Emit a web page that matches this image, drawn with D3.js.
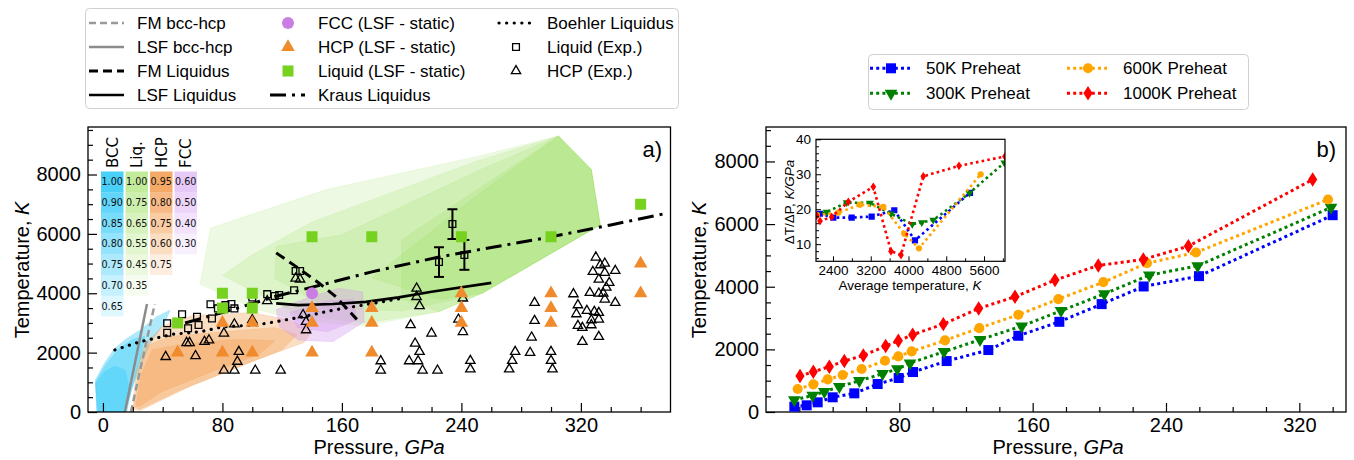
<!DOCTYPE html>
<html><head><meta charset="utf-8">
<script src="https://cdn.jsdelivr.net/npm/d3@7"></script>
<style>body{margin:0;background:#fff}</style>
</head><body><svg id="c" width="1354" height="460"></svg>
<script>
// ================= DATA : panel a) =================
const liqStaticP = [50, 80, 80, 100, 100, 140, 180, 240, 300, 360];
const liqStaticT = [3000, 3500, 4000, 3500, 4000, 5900, 5900, 5900, 5900, 7000];
const hcpStaticP = [50, 80, 80, 100, 100, 140, 140, 140, 180, 180, 180, 240, 240, 240, 300, 300, 300, 360, 360];
const hcpStaticT = [2000, 2000, 3000, 2000, 3000, 2000, 3000, 3500, 2000, 3000, 3500, 3000, 3500, 4000, 3000, 3500, 4000, 4000, 5000];
const fccStaticP = [140];
const fccStaticT = [4000];
const liqExpP = [43, 43, 53, 57, 63, 64, 72, 73, 77, 82, 86, 88, 100, 100, 110, 115, 118, 128, 129, 132, 225, 234, 242];
const liqExpT = [2670, 2990, 3290, 2820, 3210, 2930, 3630, 3150, 3490, 3600, 3640, 3490, 3860, 3560, 3970, 3910, 3940, 4100, 4750, 4750, 5050, 6330, 5290];
const liqExpErr = [0, 0, 0, 0, 0, 0, 0, 0, 0, 0, 0, 0, 0, 0, 0, 0, 0, 0, 0, 0, 500, 500, 500];
const hcpExpP = [42, 56, 58, 62, 68, 71, 81, 88, 91, 90, 81, 88, 102, 119, 100, 110, 134, 136, 136, 129, 132,
  210, 210, 212, 206, 220, 209, 212, 205, 211, 186, 186, 214, 224, 241, 240, 238, 241, 246, 246,
  289, 289, 287, 286, 276, 274, 272, 300, 300, 301,
  330, 333, 336, 328, 336, 343, 332, 339, 326, 332, 335, 337, 315, 336, 343, 318, 324, 329, 332, 317, 327, 332, 318, 321, 327, 332, 321];
const hcpExpT = [1860, 2330, 2330, 1890, 2370, 2420, 2650, 2960, 2030, 1700, 1400, 1400, 1400, 1400, 3100, 3740, 3270, 3040, 2760, 4500, 4470,
  4165, 3880, 3570, 2930, 2650, 2310, 2030, 1717, 1717, 1717, 1400, 1400, 1400, 3830, 3490, 3120, 2700, 1727, 1440,
  3680, 3074, 2515, 2000, 2030, 1727, 1440, 2030, 1727, 1440,
  5210, 4950, 5006, 4724, 4690, 4758, 4468, 4354, 4017, 3996, 3996, 4198, 3973, 3795, 3680, 3603, 3411, 3377, 3343, 3300, 3098, 3121, 2906, 2838, 2929, 2535, 2367];
const boehlerP = [8, 25, 47, 65, 80, 102, 110, 134, 154, 180, 200];
const boehlerT = [2090, 2370, 2620, 2700, 2870, 2930, 2990, 3210, 3430, 3650, 3830];
const fmLiqP = [116, 131, 145, 156, 162, 170];
const fmLiqT = [5360, 4840, 4330, 3880, 3550, 3120];
const lsfLiqP = [116, 131, 154, 176, 198, 220, 260];
const lsfLiqT = [3660, 3600, 3640, 3710, 3860, 4050, 4350];
const krausP = [55, 80, 102, 116, 150, 180, 225, 260, 300, 340, 378];
const krausT = [3000, 3350, 3680, 3900, 4330, 4720, 5220, 5540, 5900, 6300, 6700];
const fmBccP = [18.7, 34.7];
const fmBccT = [0, 3640];
const lsfBccP = [14.7, 29.5];
const lsfBccT = [0, 3640];
// phase regions (pressure, temperature) vertices
const bccRegions = [
  [[-3,0],[-5,1080],[1,1640],[8,2150],[16,2480],[25,2760],[36,3210],[45,3430],[41,2990],[31,2260],[25,1530],[19,740],[16,0]],
  [[-4,0],[-5,1000],[2,1600],[10,2100],[20,2450],[28,2550],[25,1800],[19,700],[15,0]],
  [[-4,0],[-5,950],[1,1350],[8,1550],[15,1400],[18,700],[14,0]]
];
const hcpRegions = [
  [[20,100],[22,1300],[28,2300],[40,2900],[60,3250],[100,3350],[125,3100],[140,2750],[135,2350],[100,1700],[60,900],[25,50]],
  [[21,150],[24,1400],[30,2250],[45,2550],[80,2700],[115,2850],[130,2600],[120,2100],[90,1500],[50,700],[25,100]],
  [[22,200],[26,1300],[33,2100],[55,2300],[90,2450],[115,2400],[105,1950],[75,1400],[40,700],[25,200]]
];
const fccRegions = [
  [[116,3450],[140,3900],[158,4170],[174,4050],[175,3040],[154,2370],[131,2420],[118,2870]],
  [[125,3350],[150,3750],[168,3800],[170,3100],[150,2700],[130,2850]]
];
const liqRegions = [
  [[65,4300],[72,6200],[150,7500],[250,8600],[305,9300],[327,8170],[333,6300],[254,4000],[225,3380],[175,2900],[130,3100],[100,3500]],
  [[80,4600],[100,5300],[140,6400],[250,8450],[305,9300],[327,8170],[333,6300],[254,4000],[225,3380],[175,3000],[130,3300]],
  [[115,4500],[116,5580],[160,5970],[250,8100],[305,9300],[327,8170],[333,6300],[254,4000],[200,3400],[150,3500]],
  [[180,4510],[251,7315],[305,9300],[327,8170],[333,6300],[254,4000],[225,3800]],
  [[200,5800],[305,9300],[327,8170],[333,6300],[254,4000],[225,3380],[200,3800]]
];
const tableHeads = ["BCC", "Liq.", "HCP", "FCC"];
const bccVals = ["1.00", "0.90", "0.85", "0.80", "0.75", "0.70", "0.65"];
const liqVals = ["1.00", "0.75", "0.65", "0.55", "0.45", "0.35"];
const hcpVals = ["0.95", "0.80", "0.75", "0.60", "0.75"];
const fccVals = ["0.60", "0.50", "0.40", "0.30"];
const xTicksA = [0, 80, 160, 240, 320];
const yTicksA = [0, 2000, 4000, 6000, 8000];

// ================= DATA : panel b) =================
const p50 = [17, 24.4, 31, 40, 53, 67, 79.6, 88.2, 108.4, 133.4, 151.4, 176, 201.4, 226.6, 259.8, 340];
const t50 = [170, 213, 309, 469, 596, 893, 1085, 1276, 1627, 1978, 2434, 2880, 3445, 4008, 4338, 6284];
const p300 = [17, 28, 35, 44, 56, 70, 78.8, 86.4, 106.8, 128.4, 153.4, 177, 203, 230, 259, 339];
const t300 = [383, 532, 648, 808, 998, 1222, 1372, 1563, 1925, 2307, 2743, 3232, 3774, 4370, 4667, 6529];
const p600 = [19, 28.4, 37, 46, 57.4, 71.4, 79.4, 87.4, 107.4, 128, 151.4, 175.4, 202.4, 228.6, 258, 337.2];
const t600 = [734, 883, 1042, 1180, 1372, 1637, 1775, 1935, 2286, 2679, 3104, 3604, 4147, 4753, 5093, 6784];
const p1000 = [20.4, 28.4, 38, 47, 58.4, 71.8, 79.4, 88, 106.4, 127.6, 149.4, 173.4, 199.4, 226.4, 253.4, 328];
const t1000 = [1148, 1286, 1446, 1627, 1808, 2105, 2275, 2467, 2807, 3307, 3679, 4211, 4679, 4871, 5295, 7422];
const seriesNames = ["50K Preheat", "300K Preheat", "600K Preheat", "1000K Preheat"];
// inset: average temperature vs dT/dP
const i50T = [2122, 2407, 2796, 3220, 3699, 4137, 5303];
const i50V = [18.7, 17.6, 17.6, 17.9, 19.7, 11.1, 24.7];
const i300T = [2054, 2266, 2690, 3184, 3629, 4080, 4282, 4525, 5290, 6030];
const i300V = [18.5, 19.2, 21.9, 21.8, 18.7, 15.7, 16.2, 16.9, 24.6, 33.3];
const i600T = [2060, 2512, 2972, 3466, 3911, 4222, 5529];
const i600V = [18.3, 19.0, 21.3, 20.7, 13.0, 8.8, 30.0];
const i1000T = [2054, 2125, 2373, 2725, 3254, 3629, 3841, 4313, 5070, 6044];
const i1000V = [18.2, 16.6, 17.8, 22.1, 26.4, 8.0, 6.9, 29.4, 32.4, 35.1];
const xTicksB = [80, 160, 240, 320];
const yTicksB = [0, 2000, 4000, 6000, 8000];
const xTicksI = [2400, 3200, 4000, 4800, 5600];
const yTicksI = [10, 20, 30, 40];

// ================= RENDER =================
const FONT = "'Liberation Sans', Arial, Helvetica, sans-serif";
const svg = d3.select("#c").attr("font-family", FONT);
const zip = (a, b) => a.map((v, i) => [v, b[i]]);
const range = (a, b, s) => d3.range(a, b + 1e-9, s);

const xA = d3.scaleLinear().domain([-10, 380]).range([88, 670.5]);
const yA = d3.scaleLinear().domain([0, 9600]).range([412, 127]);
const xB = d3.scaleLinear().domain([0, 348]).range([766, 1346]);
const yB = d3.scaleLinear().domain([0, 9100]).range([412, 127]);
const xI = d3.scaleLinear().domain([2040, 6045]).range([816, 1005]);
const yI = d3.scaleLinear().domain([5.1, 40]).range([261.3, 139.3]);

const C = {bcc: "#3fcdf9", liq: "#86d93a", hcp: "#f39a4c", fcc: "#d49cf0",
  gsq: "#77d11f", otri: "#ef8b2c", purp: "#c97ee3",
  b: "#0000ff", g: "#008000", o: "#ffa500", r: "#ff0000"};

function axes(x, y, xMaj, xMin, yMaj, yMin, o) {
  const g = svg.append("g");
  const bx = g.append("g").attr("transform", `translate(0,${y.range()[0]})`)
    .call(d3.axisBottom(x).tickValues(xMaj).tickSize(-o.maj).tickPadding(o.pad).tickFormat(d3.format("d")));
  const bxm = g.append("g").attr("transform", `translate(0,${y.range()[0]})`)
    .call(d3.axisBottom(x).tickValues(xMin).tickSize(-o.min).tickFormat(""));
  const ly = g.append("g").attr("transform", `translate(${x.range()[0]},0)`)
    .call(d3.axisLeft(y).tickValues(yMaj).tickSize(-o.maj).tickPadding(o.pad + 1).tickFormat(d3.format("d")));
  const lym = g.append("g").attr("transform", `translate(${x.range()[0]},0)`)
    .call(d3.axisLeft(y).tickValues(yMin).tickSize(-o.min).tickFormat(""));
  [bx, bxm, ly, lym].forEach(a => {
    a.select(".domain").remove();
    a.attr("font-family", FONT).attr("font-size", o.fs);
    a.selectAll("line").attr("stroke", "#000").attr("stroke-width", o.tw);
    a.selectAll("text").attr("fill", "#000");
  });
  g.append("rect").attr("x", x.range()[0]).attr("y", y.range()[1])
    .attr("width", x.range()[1] - x.range()[0]).attr("height", y.range()[0] - y.range()[1])
    .attr("fill", "none").attr("stroke", "#000").attr("stroke-width", o.sw);
}

// ---------- panel a ----------
svg.append("clipPath").attr("id", "clipA").append("rect")
  .attr("x", 88).attr("y", 127).attr("width", 582.5).attr("height", 285);
const ga = svg.append("g").attr("clip-path", "url(#clipA)");
const polyA = d3.line().x(d => xA(d[0])).y(d => yA(d[1]));
const regionSets = [[liqRegions, C.liq, 0.15], [bccRegions, C.bcc, 0.42], [hcpRegions, C.hcp, 0.32], [fccRegions, C.fcc, 0.38]];
regionSets.forEach(([set, col, op]) => set.forEach(pts =>
  ga.append("path").attr("d", polyA(pts) + "Z").attr("fill", col).attr("fill-opacity", op)
    .attr("stroke", col).attr("stroke-opacity", op * 0.6).attr("stroke-width", 1)));

const lineA = (P, T) => polyA(zip(P, T));
ga.append("path").attr("d", lineA(lsfBccP, lsfBccT)).attr("stroke", "#8c8c8c").attr("stroke-width", 2.5).attr("fill", "none");
ga.append("path").attr("d", lineA(fmBccP, fmBccT)).attr("stroke", "#999").attr("stroke-width", 2.5).attr("fill", "none").attr("stroke-dasharray", "7,4");
ga.append("path").attr("d", lineA(boehlerP, boehlerT)).attr("stroke", "#000").attr("stroke-width", 3.2).attr("fill", "none")
  .attr("stroke-dasharray", "0.1,7.5").attr("stroke-linecap", "round");
ga.append("path").attr("d", lineA(krausP, krausT)).attr("stroke", "#000").attr("stroke-width", 3).attr("fill", "none")
  .attr("stroke-dasharray", "16,6,3,6");
ga.append("path").attr("d", lineA(lsfLiqP, lsfLiqT)).attr("stroke", "#000").attr("stroke-width", 2.6).attr("fill", "none");
ga.append("path").attr("d", lineA(fmLiqP, fmLiqT)).attr("stroke", "#000").attr("stroke-width", 3).attr("fill", "none").attr("stroke-dasharray", "10,6");

const sym = (type, size) => d3.symbol().type(type).size(size)();
zip(hcpExpP, hcpExpT).forEach(([p, t]) =>
  ga.append("path").attr("d", sym(d3.symbolTriangle, 38)).attr("transform", `translate(${xA(p)},${yA(t)})`)
    .attr("fill", "none").attr("stroke", "#000").attr("stroke-width", 1.3));
zip(liqExpP, liqExpT).forEach(([p, t], i) => {
  const e = liqExpErr[i];
  if (e > 0) {
    const x = xA(p);
    ga.append("line").attr("x1", x).attr("x2", x).attr("y1", yA(t - e)).attr("y2", yA(t + e)).attr("stroke", "#000").attr("stroke-width", 2);
    [t - e, t + e].forEach(v => ga.append("line").attr("x1", x - 5).attr("x2", x + 5).attr("y1", yA(v)).attr("y2", yA(v)).attr("stroke", "#000").attr("stroke-width", 2));
  }
  ga.append("path").attr("d", sym(d3.symbolSquare, 46)).attr("transform", `translate(${xA(p)},${yA(t)})`)
    .attr("fill", "none").attr("stroke", "#000").attr("stroke-width", 1.3);
});
zip(liqStaticP, liqStaticT).forEach(([p, t]) =>
  ga.append("path").attr("d", sym(d3.symbolSquare, 121)).attr("transform", `translate(${xA(p)},${yA(t)})`).attr("fill", C.gsq));
zip(hcpStaticP, hcpStaticT).forEach(([p, t]) =>
  ga.append("path").attr("d", sym(d3.symbolTriangle, 80)).attr("transform", `translate(${xA(p)},${yA(t)})`).attr("fill", C.otri));
zip(fccStaticP, fccStaticT).forEach(([p, t]) =>
  ga.append("circle").attr("cx", xA(p)).attr("cy", yA(t)).attr("r", 6).attr("fill", C.purp));

// table
const cols = [[bccVals, C.bcc, 101, 0.95, 0.13], [liqVals, C.liq, 125.5, 0.5, 0.085], [hcpVals, C.hcp, 150, 0.85, 0.17], [fccVals, C.fcc, 174.5, 0.55, 0.13]];
cols.forEach(([vals, col, x0, op0, dop], ci) => {
  vals.forEach((v, i) => {
    ga.append("rect").attr("x", x0).attr("y", 171.5 + i * 20.7).attr("width", 22.5).attr("height", 20.7)
      .attr("fill", col).attr("fill-opacity", Math.max(0.06, op0 - i * dop));
    ga.append("text").attr("x", x0 + 11.2).attr("y", 185.3 + i * 20.7).attr("text-anchor", "middle")
      .attr("font-family", "'DejaVu Sans', sans-serif").attr("font-size", 9.6).attr("fill", "#111").text(v);
  });
  svg.append("text").attr("transform", `translate(${x0 + 16.5},168) rotate(-90)`)
    .attr("font-family", "'DejaVu Sans', sans-serif").attr("font-size", 15).text(tableHeads[ci]);
});

axes(xA, yA, xTicksA, range(20, 360, 20).filter(v => v % 80), yTicksA, range(500, 9500, 500).filter(v => v % 2000), {maj: 9, min: 5, pad: 6, fs: 20, tw: 1.2, sw: 1.3});
svg.append("text").attr("x", 662).attr("y", 157).attr("text-anchor", "end").attr("font-size", 22).text("a)");
svg.append("text").attr("transform", "translate(29,270) rotate(-90)").attr("text-anchor", "middle").attr("font-size", 20)
  .call(t => { t.append("tspan").text("Temperature, "); t.append("tspan").attr("font-style", "italic").text("K"); });
svg.append("text").attr("x", 379).attr("y", 454).attr("text-anchor", "middle").attr("font-size", 20)
  .call(t => { t.append("tspan").text("Pressure, "); t.append("tspan").attr("font-style", "italic").text("GPa"); });

// ---------- legend a ----------
const legA = svg.append("g");
legA.append("rect").attr("x", 85.5).attr("y", 8.5).attr("width", 593).attr("height", 100).attr("rx", 4)
  .attr("fill", "#fff").attr("stroke", "#d0d0d0");
const legRows = [23, 47, 71, 95];
const lineH = (x1, x2, y, col, dash, w) => legA.append("line").attr("x1", x1).attr("x2", x2).attr("y1", y).attr("y2", y)
  .attr("stroke", col).attr("stroke-width", w || 2.5).attr("stroke-dasharray", dash || null);
const legText = (x, y, s) => legA.append("text").attr("x", x).attr("y", y + 6).attr("font-size", 17).text(s);
const legCol1 = ["FM bcc-hcp", "LSF bcc-hcp", "FM Liquidus", "LSF Liquidus"];
const legCol2 = ["FCC (LSF - static)", "HCP (LSF - static)", "Liquid (LSF - static)", "Kraus Liquidus"];
const legCol3 = ["Boehler Liquidus", "Liquid (Exp.)", "HCP (Exp.)"];
lineH(89, 124, legRows[0], "#999", "7,4");
lineH(89, 124, legRows[1], "#8c8c8c");
lineH(89, 124, legRows[2], "#000", "9,5", 3);
lineH(89, 124, legRows[3], "#000", null, 2.6);
legCol1.forEach((s, i) => legText(137, legRows[i], s));
legA.append("circle").attr("cx", 288).attr("cy", legRows[0]).attr("r", 6).attr("fill", C.purp);
legA.append("path").attr("d", sym(d3.symbolTriangle, 80)).attr("transform", `translate(288,${legRows[1]})`).attr("fill", C.otri);
legA.append("path").attr("d", sym(d3.symbolSquare, 121)).attr("transform", `translate(288,${legRows[2]})`).attr("fill", C.gsq);
lineH(270, 305, legRows[3], "#000", "16,6,3,6", 3);
legCol2.forEach((s, i) => legText(318, legRows[i], s));
lineH(499, 533, legRows[0], "#000", "0.1,7.5", 3.2).attr("stroke-linecap", "round");
legA.append("path").attr("d", sym(d3.symbolSquare, 46)).attr("transform", `translate(516,${legRows[1]})`).attr("fill", "none").attr("stroke", "#000").attr("stroke-width", 1.3);
legA.append("path").attr("d", sym(d3.symbolTriangle, 38)).attr("transform", `translate(516,${legRows[2]})`).attr("fill", "none").attr("stroke", "#000").attr("stroke-width", 1.3);
legCol3.forEach((s, i) => legText(547, legRows[i], s));

// ---------- panel b ----------
const seriesB = [[p50, t50, C.b, "sq"], [p300, t300, C.g, "tri"], [p600, t600, C.o, "circ"], [p1000, t1000, C.r, "dia"]];
const markerPath = (k, s) => {
  s = s || 1;
  if (k === "sq") return sym(d3.symbolSquare, 100 * s * s);
  if (k === "circ") return sym(d3.symbolCircle, 80 * s * s);
  if (k === "tri") return sym(d3.symbolTriangle, 70 * s * s);
  const w = 4.6 * s, h = 7.2 * s;
  return `M0,${-h}L${w},0L0,${h}L${-w},0Z`;
};
const markerT = (k) => k === "tri" ? " rotate(180)" : "";
axes(xB, yB, xTicksB, range(20, 340, 20).filter(v => v % 80), yTicksB, range(500, 9000, 500).filter(v => v % 2000), {maj: 9, min: 5, pad: 6, fs: 20, tw: 1.2, sw: 1.3});
const gb = svg.append("g");
const lineB = d3.line().x(d => xB(d[0])).y(d => yB(d[1]));
seriesB.forEach(([P, T, col, k]) => {
  gb.append("path").attr("d", lineB(zip(P, T))).attr("fill", "none").attr("stroke", col).attr("stroke-width", 3).attr("stroke-dasharray", "3,3.2");
  zip(P, T).forEach(([p, t]) => gb.append("path").attr("d", markerPath(k)).attr("transform", `translate(${xB(p)},${yB(t)})` + markerT(k)).attr("fill", col));
});
svg.append("text").attr("x", 1336).attr("y", 157).attr("text-anchor", "end").attr("font-size", 22).text("b)");
svg.append("text").attr("transform", "translate(706,270) rotate(-90)").attr("text-anchor", "middle").attr("font-size", 20)
  .call(t => { t.append("tspan").text("Temperature, "); t.append("tspan").attr("font-style", "italic").text("K"); });
svg.append("text").attr("x", 1058).attr("y", 454).attr("text-anchor", "middle").attr("font-size", 20)
  .call(t => { t.append("tspan").text("Pressure, "); t.append("tspan").attr("font-style", "italic").text("GPa"); });

// ---------- inset ----------
svg.append("rect").attr("x", 816).attr("y", 139.3).attr("width", 189).attr("height", 122).attr("fill", "#fff");
const seriesI = [[i50T, i50V, C.b, "sq"], [i300T, i300V, C.g, "tri"], [i600T, i600V, C.o, "circ"], [i1000T, i1000V, C.r, "dia"]];
const lineI = d3.line().x(d => xI(d[0])).y(d => yI(d[1]));
svg.append("clipPath").attr("id", "clipI").append("rect").attr("x", 816).attr("y", 139.3).attr("width", 189).attr("height", 122);
const gi = svg.append("g").attr("clip-path", "url(#clipI)");
seriesI.forEach(([T, V, col, k]) => {
  gi.append("path").attr("d", lineI(zip(T, V))).attr("fill", "none").attr("stroke", col).attr("stroke-width", 2.6).attr("stroke-dasharray", "2.6,3.2");
  zip(T, V).forEach(([t, v]) => gi.append("path").attr("d", markerPath(k, 0.62)).attr("transform", `translate(${xI(t)},${yI(v)})` + markerT(k)).attr("fill", col));
});
axes(xI, yI, xTicksI, [2800, 3600, 4400, 5200, 6000], yTicksI, range(6, 38, 2).filter(v => v % 10), {maj: 5, min: 3, pad: 4, fs: 13.5, tw: 1, sw: 1.2});
svg.append("text").attr("transform", "translate(794,202) rotate(-90)").attr("text-anchor", "middle").attr("font-size", 13.5)
  .call(t => { t.append("tspan").text("ΔT/ΔP, "); t.append("tspan").attr("font-style", "italic").text("K/GPa"); });
svg.append("text").attr("x", 910).attr("y", 290).attr("text-anchor", "middle").attr("font-size", 13.5)
  .call(t => { t.append("tspan").text("Average temperature, "); t.append("tspan").attr("font-style", "italic").text("K"); });

// ---------- legend b ----------
const legB = svg.append("g");
legB.append("rect").attr("x", 868.5).attr("y", 54.5).attr("width", 380).attr("height", 55).attr("rx", 4).attr("fill", "#fff").attr("stroke", "#d0d0d0");
const legBpos = [[870, 68.3], [870, 93.3], [1067, 68.3], [1067, 93.3]];
seriesB.forEach(([P, T, col, k], i) => {
  const [x0, y0] = legBpos[i];
  legB.append("line").attr("x1", x0).attr("x2", x0 + 40).attr("y1", y0).attr("y2", y0).attr("stroke", col).attr("stroke-width", 3).attr("stroke-dasharray", "3,3.2");
  legB.append("path").attr("d", markerPath(k)).attr("transform", `translate(${x0 + 21},${y0})` + markerT(k)).attr("fill", col);
  legB.append("text").attr("x", x0 + 56).attr("y", y0 + 6).attr("font-size", 17).text(seriesNames[i]);
});
</script></body></html>
